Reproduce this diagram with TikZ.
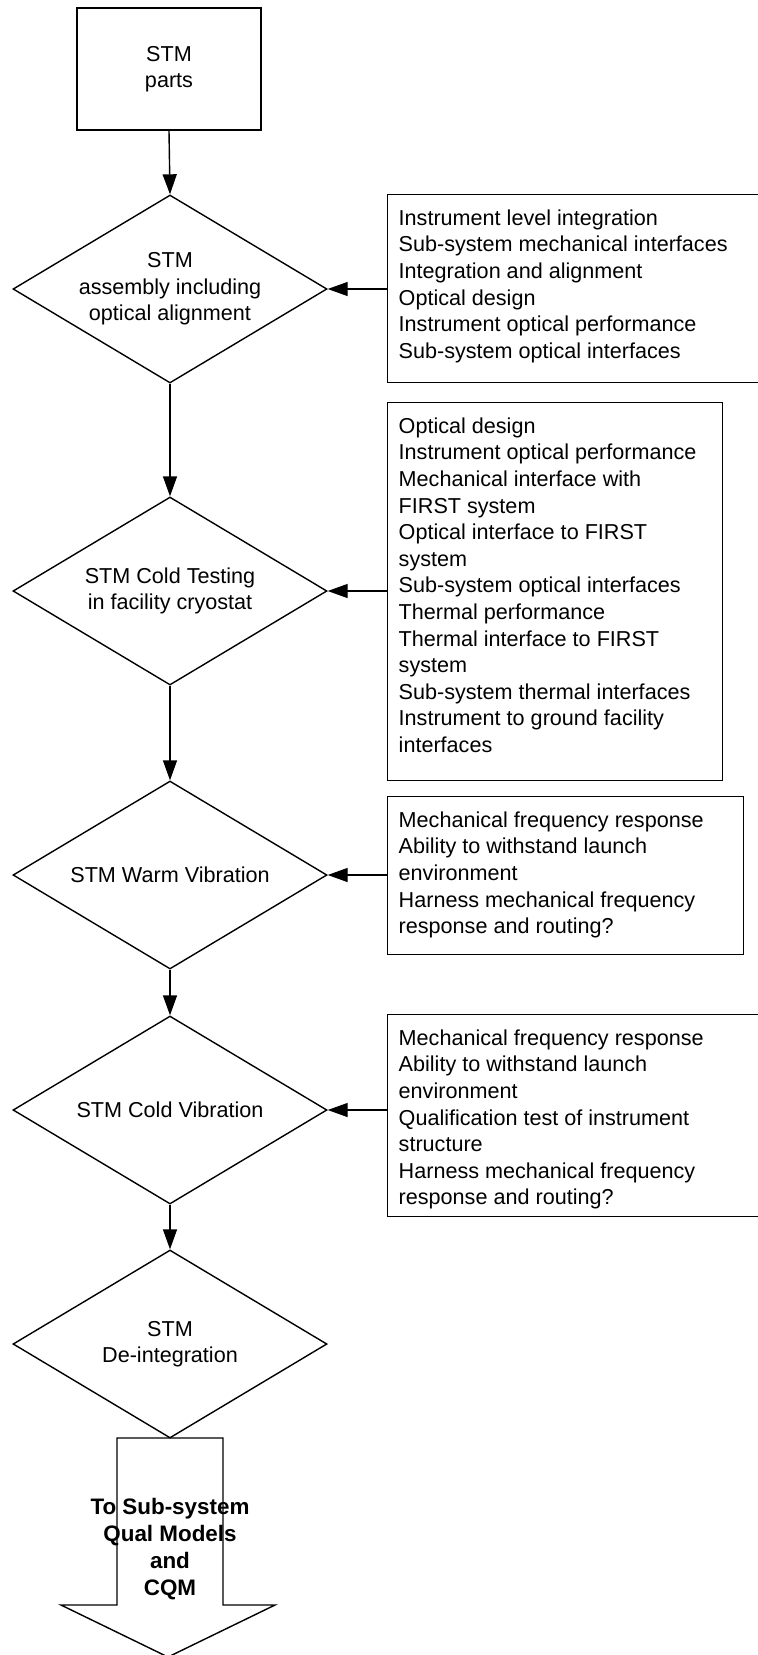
\documentclass[tikz,border=0pt]{standalone}
\usepackage{fontspec}
\setmainfont{Liberation Sans}
\usetikzlibrary{shapes.geometric,arrows.meta}

\begin{document}
\begin{tikzpicture}[x=0.5pt, y=-0.5pt, line width=0.7pt,
  font=\fontsize{10.8}{13.3}\selectfont,
  stage/.style={draw, diamond, aspect=1.65, inner sep=0pt, align=center, minimum width=157pt, minimum height=94pt},
  partbox/.style={draw, align=center, minimum width=92pt, minimum height=61pt},
  checkbox/.style={draw, anchor=north west, inner xsep=5.5pt, inner ysep=7.5pt},
  flow/.style={-{Triangle[length=10pt,width=7pt]}}]

\useasboundingbox (0,0) rectangle (758,1655);

\node[partbox] (parts) at (169,69) {STM\\parts};
\node[stage] (d1) at (170,289) {STM\\assembly including\\optical alignment};
\node[stage] (d2) at (170,591) {STM Cold Testing\\in facility cryostat};
\node[stage] (d3) at (170,875) {STM Warm Vibration};
\node[stage] (d4) at (170,1110) {STM Cold Vibration};
\node[stage] (d5) at (170,1344) {STM\\De-integration};

\node[checkbox] (c1) at (387,194) {\parbox[t][79pt][t]{175.5pt}{\raggedright
  Instrument level integration\\
  Sub-system mechanical interfaces\\
  Integration and alignment\\
  Optical design\\
  Instrument optical performance\\
  Sub-system optical interfaces}};
\node[checkbox] (c2) at (387,402) {\parbox[t][174pt][t]{156.5pt}{\raggedright
  Optical design\\
  Instrument optical performance\\
  Mechanical interface with\\
  FIRST system\\
  Optical interface to FIRST\\
  system\\
  Sub-system optical interfaces\\
  Thermal performance\\
  Thermal interface to FIRST\\
  system\\
  Sub-system thermal interfaces\\
  Instrument to ground facility\\
  interfaces}};
\node[checkbox] (c3) at (387,796) {\parbox[t][64pt][t]{167pt}{\raggedright
  Mechanical frequency response\\
  Ability to withstand launch\\
  environment\\
  Harness mechanical frequency\\
  response and routing?}};
\node[checkbox] (c4) at (387,1014) {\parbox[t][86pt][t]{175.5pt}{\raggedright
  Mechanical frequency response\\
  Ability to withstand launch\\
  environment\\
  Qualification test of instrument\\
  structure\\
  Harness mechanical frequency\\
  response and routing?}};

\draw[flow] (parts.south) -- (d1.north);
\draw[flow] (d1.south) -- (d2.north);
\draw[flow] (d2.south) -- (d3.north);
\draw[flow] (d3.south) -- (d4.north);
\draw[flow] (d4.south) -- (d5.north);

\draw[flow] (c1.west |- d1.east) -- (d1.east);
\draw[flow] (c2.west |- d2.east) -- (d2.east);
\draw[flow] (c3.west |- d3.east) -- (d3.east);
\draw[flow] (c4.west |- d4.east) -- (d4.east);

% outgoing block arrow
\draw (117,1438) -- (223,1438) -- (223,1605) -- (275,1605) -- (168,1657)
  -- (61,1605) -- (117,1605) -- cycle;
\node[align=center, font=\fontsize{11.2}{13.5}\selectfont\bfseries] (out) at (170,1549)
  {To Sub-system\\Qual Models\\and\\CQM};
\end{tikzpicture}
\end{document}
